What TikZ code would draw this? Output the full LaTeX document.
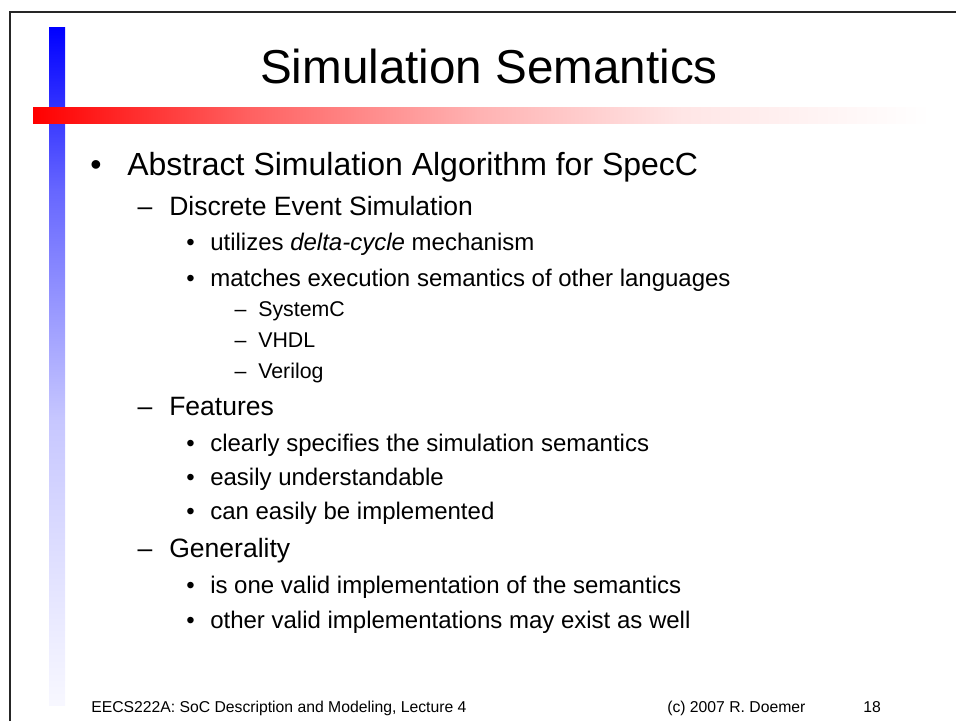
\documentclass[tikz,border=0pt]{standalone}
\usepackage{fontspec}
\setmainfont{Liberation Sans}
\pgfdeclareverticalshading{bluebar}{100bp}{color(0bp)=(blue!3); color(25bp)=(blue!3); color(29.8bp)=(blue!7); color(46bp)=(blue!22); color(63bp)=(blue!60); color(75bp)=(blue); color(100bp)=(blue)}
\pgfdeclarehorizontalshading{redbar}{100bp}{color(0bp)=(red); color(25bp)=(red); color(37.1bp)=(red!62); color(49.9bp)=(red!30); color(61.1bp)=(red!10); color(75bp)=(white); color(100bp)=(white)}
\tikzstyle{frame}=[draw=black!85, line width=1.5pt]
\tikzstyle{heading}=[anchor=base, inner sep=0pt, font=\fontsize{35.7}{40}\selectfont]
\tikzstyle{item}=[anchor=base west, inner sep=0pt]
\tikzstyle{itemmark}=[anchor=base, inner sep=0pt]
\tikzstyle{levelone}=[font=\fontsize{24}{29}\selectfont]
\tikzstyle{leveltwo}=[font=\fontsize{19.9}{24}\selectfont]
\tikzstyle{levelthree}=[font=\fontsize{18}{22}\selectfont]
\tikzstyle{levelfour}=[font=\fontsize{16}{19}\selectfont]
\tikzstyle{footer}=[anchor=base west, inner sep=0pt, font=\fontsize{11.8}{14}\selectfont]

\begin{document}
\begin{tikzpicture}[x=0.75pt, y=-0.75pt]
	\useasboundingbox (0,0) rectangle (956,721);
	
	% Slide frame and the two colour bars
	\draw[frame] (10,721) -- (10,12) -- (956,12);
	\shade[shading=bluebar] (49,27) rectangle (65,705);
	\shade[shading=redbar] (33,107) rectangle (930,123);
	
	\node[heading] (title) at (489,83) {Simulation Semantics};
	
	% First level
	\node[itemmark, levelone] (algo-mark) at (96,175) {•};
	\node[item, levelone] (algo) at (127,175) {Abstract Simulation Algorithm for SpecC};
	
	% Second level
	\foreach \ypos/\name/\txt in {215/des/Discrete Event Simulation, 415/feat/Features, 557/gen/Generality}
	{
		\node[itemmark, leveltwo] (\name-mark) at (145,\ypos) {–};
		\node[item, leveltwo] (\name) at (169,\ypos) {\txt};
	}
	
	% Third level
	\foreach \ypos/\name/\txt in {250/delta/{utilizes \textit{delta-cycle} mechanism},
		286/match/matches execution semantics of other languages,
		451/clear/clearly specifies the simulation semantics,
		485/easy/easily understandable,
		519/impl/can easily be implemented,
		593/valid/is one valid implementation of the semantics,
		628/other/other valid implementations may exist as well}
	{
		\node[itemmark, levelthree] (\name-mark) at (190.5,\ypos) {•};
		\node[item, levelthree] (\name) at (210,\ypos) {\txt};
	}
	
	% Fourth level
	\foreach \ypos/\name in {316/SystemC, 347/VHDL, 378/Verilog}
	{
		\node[itemmark, levelfour] (\name-mark) at (240.5,\ypos) {–};
		\node[item, levelfour] (\name) at (258,\ypos) {\name};
	}
	
	% Footer
	\node[footer] (course) at (91,712) {EECS222A: SoC Description and Modeling, Lecture 4};
	\node[footer] (copy) at (667,712) {(c) 2007 R. Doemer};
	\node[footer] (page) at (863,712) {18};
\end{tikzpicture}
\end{document}
